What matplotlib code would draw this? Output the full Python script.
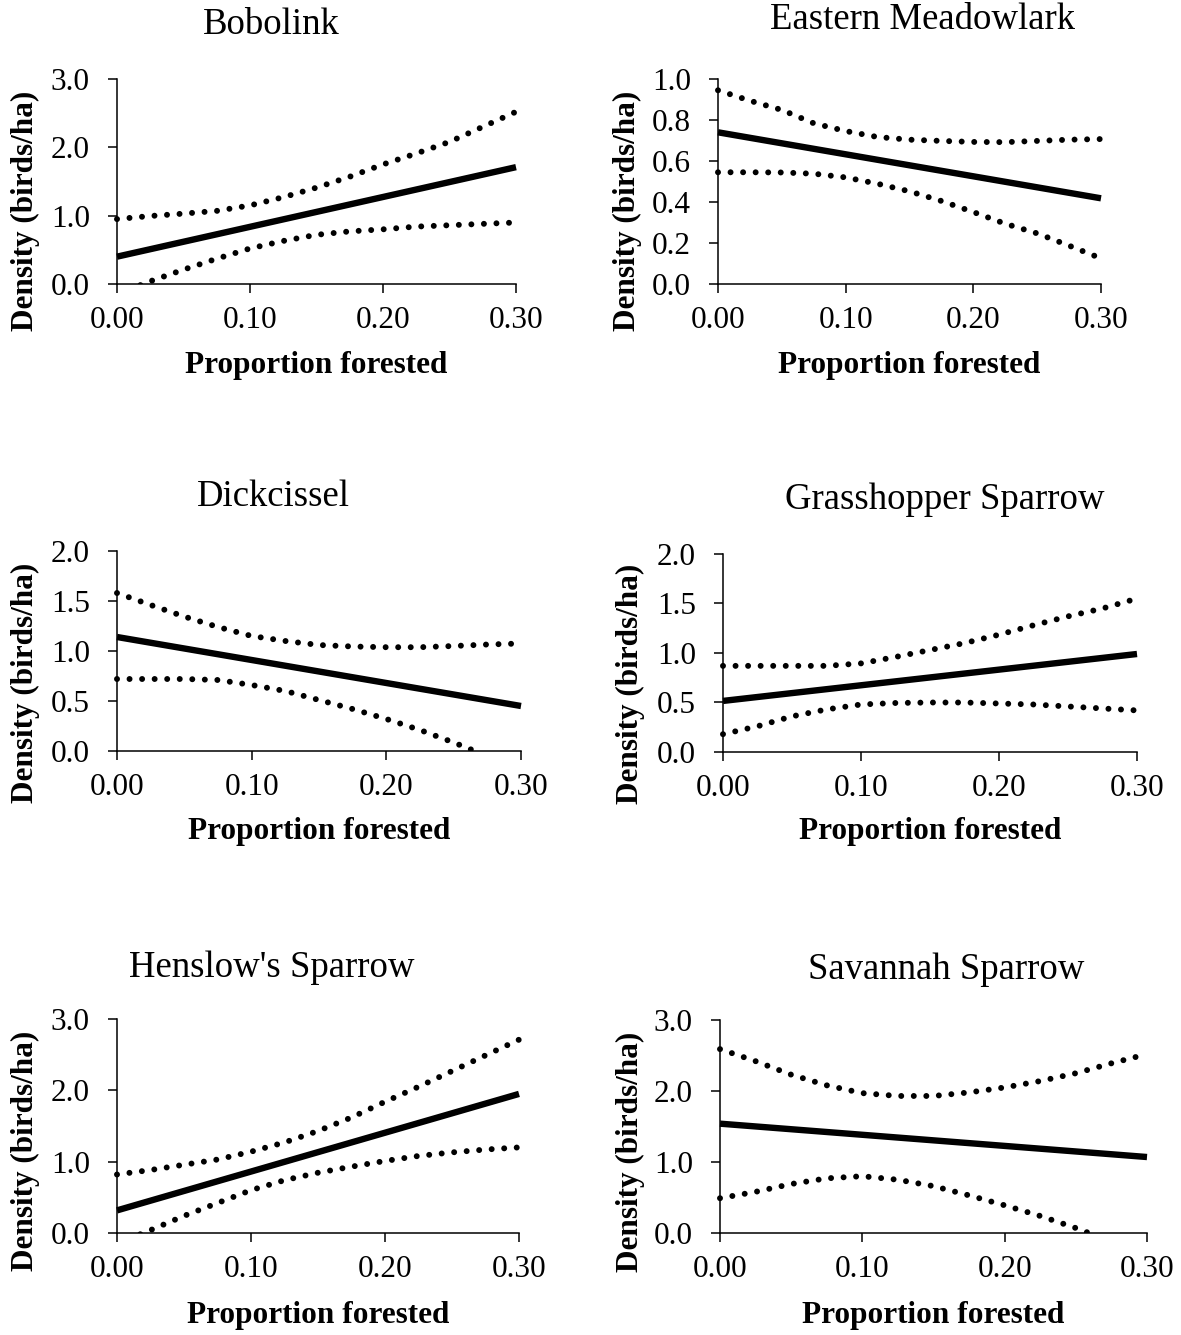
import matplotlib
matplotlib.use("Agg")
import matplotlib.pyplot as plt
from matplotlib.patches import Rectangle
from matplotlib.ticker import FixedLocator, FormatStrFormatter

plt.rcParams['font.family'] = ['Liberation Serif', 'DejaVu Serif']

# ---------------------------------------------------------------- data
species = ["Bobolink", "Eastern Meadowlark", "Dickcissel",
           "Grasshopper Sparrow", "Henslow's Sparrow", "Savannah Sparrow"]

# proportion forested at which the confidence limits are given
forest = [0.0, 0.025, 0.05, 0.075, 0.10, 0.125, 0.15,
          0.175, 0.20, 0.225, 0.25, 0.275, 0.30]
fit_x = [0.0, 0.30]

# predicted density (birds/ha) at 0 and 0.30 forested
bobolink_fit = [0.40, 1.71]
meadowlark_fit = [0.74, 0.418]
dickcissel_fit = [1.14, 0.45]
grasshopper_fit = [0.516, 0.99]
henslow_fit = [0.317, 1.95]
savannah_fit = [1.54, 1.07]

# upper and lower 95% confidence limits
bobolink_hi = [0.95, 0.995, 1.03, 1.07, 1.15, 1.27, 1.41, 1.57, 1.75, 1.91, 2.08, 2.30, 2.52]
bobolink_lo = [-0.15, 0.04, 0.21, 0.37, 0.52, 0.63, 0.72, 0.77, 0.80, 0.84, 0.86, 0.88, 0.90]
meadowlark_hi = [0.945, 0.894, 0.849, 0.784, 0.746, 0.717, 0.704, 0.698, 0.693, 0.692, 0.698, 0.704, 0.707]
meadowlark_lo = [0.545, 0.545, 0.544, 0.538, 0.520, 0.489, 0.452, 0.405, 0.351, 0.294, 0.247, 0.187, 0.125]
dickcissel_hi = [1.58, 1.46, 1.344, 1.24, 1.15, 1.10, 1.06, 1.045, 1.038, 1.038, 1.05, 1.065, 1.075]
dickcissel_lo = [0.72, 0.72, 0.72, 0.71, 0.66, 0.60, 0.51, 0.42, 0.32, 0.21, 0.085, -0.05, -0.18]
grasshopper_hi = [0.87, 0.87, 0.87, 0.87, 0.895, 0.96, 1.03, 1.10, 1.185, 1.28, 1.37, 1.45, 1.55]
grasshopper_lo = [0.18, 0.26, 0.36, 0.43, 0.48, 0.495, 0.50, 0.50, 0.49, 0.48, 0.46, 0.44, 0.42]
henslow_hi = [0.82, 0.883, 0.957, 1.03, 1.14, 1.27, 1.43, 1.62, 1.84, 2.05, 2.27, 2.49, 2.71]
henslow_lo = [-0.15, 0.04, 0.24, 0.42, 0.60, 0.74, 0.845, 0.93, 1.01, 1.08, 1.13, 1.17, 1.20]
savannah_hi = [2.59, 2.42, 2.23, 2.08, 1.97, 1.93, 1.93, 1.98, 2.05, 2.14, 2.25, 2.39, 2.52]
savannah_lo = [0.49, 0.58, 0.69, 0.77, 0.80, 0.75, 0.66, 0.53, 0.39, 0.24, 0.07, -0.12, -0.32]

fits = [bobolink_fit, meadowlark_fit, dickcissel_fit,
        grasshopper_fit, henslow_fit, savannah_fit]
uppers = [bobolink_hi, meadowlark_hi, dickcissel_hi,
          grasshopper_hi, henslow_hi, savannah_hi]
lowers = [bobolink_lo, meadowlark_lo, dickcissel_lo,
          grasshopper_lo, henslow_lo, savannah_lo]

y_max = [3.0, 1.0, 2.0, 2.0, 3.0, 3.0]
y_step = [1.0, 0.2, 0.5, 0.5, 1.0, 1.0]
x_ticks = [0.0, 0.10, 0.20, 0.30]

# ---------------------------------------------------------------- layout (pixels)
W, H = 1181, 1335
DPI = 100
# plot-area boxes: left, right, top, bottom
boxes = [(117, 516, 79, 284), (718, 1101, 79, 284),
         (117, 521, 551, 751), (723, 1137, 554, 752),
         (117, 519, 1019, 1233), (720, 1147, 1020, 1233)]
title_pos = [(271, 25), (923, 20), (273, 497), (945, 500), (272, 968), (946, 970)]
ylabel_pos = [(25, 211), (627, 211), (25, 683), (630, 684), (25, 1151), (630, 1152)]
xlabel_y = [366, 366, 832, 832, 1315, 1315]

TICK_FS = 22.5
LABEL_FS = 22.5
TITLE_FS = 26.5

fig = plt.figure(figsize=(W / DPI, H / DPI), dpi=DPI)


def fx(px):
    return px / W


def fy(py):
    return 1 - py / H


for i in range(6):
    l, r, t, b = boxes[i]
    ax = fig.add_axes([fx(l), fy(b), fx(r - l), (b - t) / H])
    ax.set_xlim(0, 0.30)
    ax.set_ylim(0, y_max[i])
    for side in ("top", "right"):
        ax.spines[side].set_visible(False)
    for side in ("left", "bottom"):
        ax.spines[side].set_linewidth(1.1)
    n = int(round(y_max[i] / y_step[i]))
    ax.yaxis.set_major_locator(FixedLocator([k * y_step[i] for k in range(n + 1)]))
    ax.yaxis.set_major_formatter(FormatStrFormatter("%.1f"))
    ax.xaxis.set_major_locator(FixedLocator(x_ticks))
    ax.xaxis.set_major_formatter(FormatStrFormatter("%.2f"))
    ax.tick_params(axis="y", direction="out", length=6.5, width=1.1,
                   labelsize=TICK_FS, pad=13)
    ax.tick_params(axis="x", direction="out", length=6.5, width=1.1,
                   labelsize=TICK_FS, pad=9)

    # clip only at the bottom of the plot area so the end dots stay whole
    clip = Rectangle((-0.05, 0.0), 1.1, 1.1, transform=ax.transAxes)

    for band in (uppers[i], lowers[i]):
        ln, = ax.plot(forest, band, color="black", lw=4.3,
                      linestyle=(0, (0.001, 2.1)), dash_capstyle="round")
        ln.set_clip_path(clip)
    ax.plot(fit_x, fits[i], color="black", lw=4.6,
            solid_capstyle="butt", clip_on=False)

    fig.text(fx(title_pos[i][0]), fy(title_pos[i][1]), species[i],
             ha="center", va="center", fontsize=TITLE_FS)
    fig.text(fx(ylabel_pos[i][0]), fy(ylabel_pos[i][1]), "Density (birds/ha)",
             ha="center", va="center", rotation=90, fontsize=LABEL_FS,
             fontweight="bold")
    fig.text(fx((l + r) / 2), fy(xlabel_y[i]), "Proportion forested",
             ha="center", va="center", fontsize=LABEL_FS, fontweight="bold")

fig.savefig("out.png", dpi=DPI, facecolor="white")
